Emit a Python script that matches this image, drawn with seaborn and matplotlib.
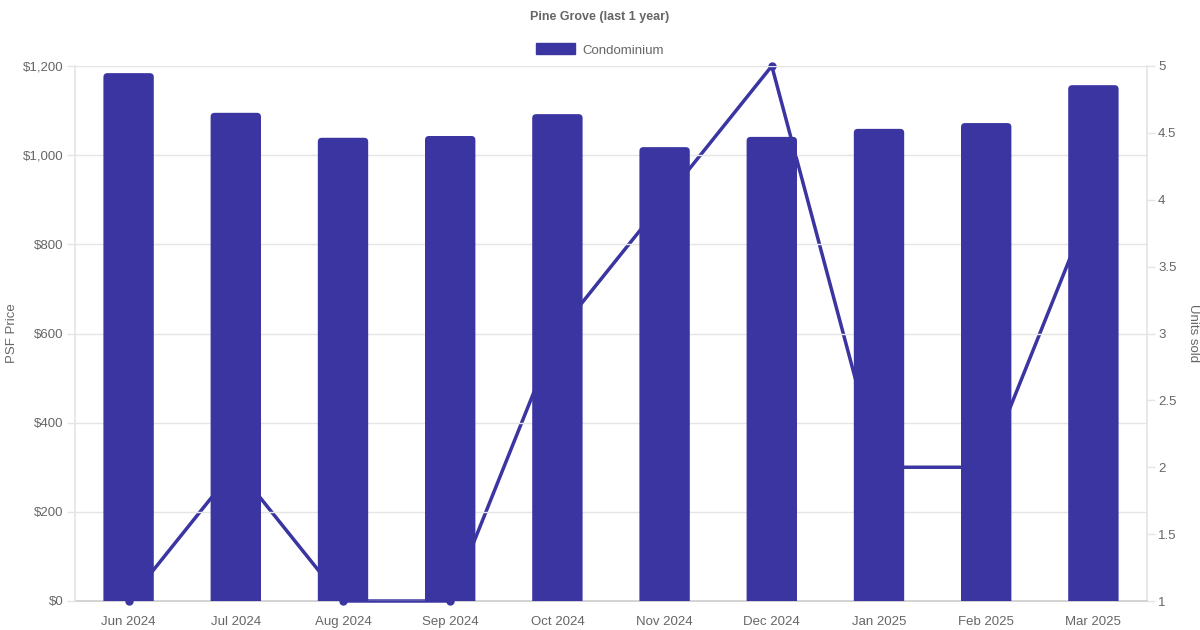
import matplotlib
matplotlib.use("Agg")
import matplotlib.pyplot as plt
import seaborn as sns
import pandas as pd
from matplotlib.patches import Patch, FancyBboxPatch

months = ["Jun 2024", "Jul 2024", "Aug 2024", "Sep 2024", "Oct 2024",
          "Nov 2024", "Dec 2024", "Jan 2025", "Feb 2025", "Mar 2025"]
psf_price = [1184, 1095, 1039, 1043, 1092, 1018, 1041, 1059, 1072, 1157]
units_sold = [1, 2, 1, 1, 3, 4, 5, 2, 2, 4]
left_ticks = [0, 200, 400, 600, 800, 1000, 1200]
right_ticks = [1, 1.5, 2, 2.5, 3, 3.5, 4, 4.5, 5]

df = pd.DataFrame({"month": months, "psf": psf_price, "units": units_sold})

sns.set_theme(style="white")
plt.rcParams["font.family"] = ["Liberation Sans", "DejaVu Sans"]

color = "#3a35a0"
grid_c = "#e5e5e5"
text_c = "#666666"
fs = 9.5

W, H = 1200, 630
fig = plt.figure(figsize=(12, 6.3), dpi=100)
ax = fig.add_axes([75/W, 29/H, (1147-75)/W, (601-66)/H])
ax2 = ax.twinx()

sns.barplot(data=df, x="month", y="psf", color=color, width=0.47,
            saturation=1, ax=ax, zorder=3, linewidth=0)
sns.lineplot(data=df, x="month", y="units", color=color, linewidth=2.5,
             marker="o", markersize=6, markeredgewidth=0, ax=ax2,
             sort=False)
for ln in ax2.lines:
    ln.set_clip_on(False)
    ln.set_zorder(4)

ax.set_zorder(ax2.get_zorder() + 1)
ax.patch.set_visible(False)

ax.set_xlim(-0.5, 9.5)
ax.set_ylim(0, 1200)
ax.set_yticks(left_ticks)
ax.set_yticklabels([f"${v:,}" for v in left_ticks])
ax2.set_ylim(1, 5)
ax2.set_yticks(right_ticks)
ax2.set_yticklabels([f"{v:g}" for v in right_ticks])

# rounded bar tops
px_x = 10 / (1147 - 75)          # x data units per pixel
px_y = 1200 / (601 - 66)         # y data units per pixel
r_px = 4
for p in list(ax.patches):
    x0, w, h = p.get_x(), p.get_width(), p.get_height()
    fb = FancyBboxPatch((x0, -10 * px_y), w, h + 10 * px_y,
                        boxstyle=f"round,pad=0,rounding_size={r_px*px_x}",
                        mutation_aspect=px_y / px_x,
                        facecolor=color, edgecolor="none", zorder=3)
    ax.add_patch(fb)
    p.set_visible(False)

for a in (ax, ax2):
    for s in a.spines.values():
        s.set_visible(False)
ax.spines["left"].set_visible(True)
ax.spines["left"].set_color(grid_c)
ax2.spines["bottom"].set_visible(True)
ax2.spines["bottom"].set_color("#cccccc")
ax2.spines["right"].set_visible(True)
ax2.spines["right"].set_color(grid_c)

ax.yaxis.grid(True, color=grid_c, linewidth=1, zorder=0)
ax.set_axisbelow(True)

ax.tick_params(axis="y", colors=text_c, labelsize=fs, length=6, width=1,
               color=grid_c, pad=2, left=True)
ax.tick_params(axis="x", colors=text_c, labelsize=fs, length=0, pad=10.5)
ax2.tick_params(axis="y", colors=text_c, labelsize=fs, length=6, width=1,
                color=grid_c, pad=2, right=True)
ax2.tick_params(axis="x", length=0, labelbottom=False)

ax.set_xlabel("")
ax.set_ylabel("PSF Price", color=text_c, fontsize=fs, labelpad=4)
ax2.set_xlabel("")
ax2.set_ylabel("Units sold", color=text_c, fontsize=fs, rotation=270,
               labelpad=16)

fig.text(0.5, 1 - 17/H, "Pine Grove (last 1 year)", ha="center",
         va="center", fontsize=9, fontweight="bold", color=text_c)

handles = [Patch(facecolor=color, edgecolor=color, label="Condominium")]
fig.legend(handles=handles, loc="center", bbox_to_anchor=(0.5, 1 - 50/H),
           frameon=False, fontsize=fs, labelcolor=text_c, handlelength=3.0,
           handleheight=0.9, handletextpad=0.55)

fig.savefig("out.png", dpi=100)
